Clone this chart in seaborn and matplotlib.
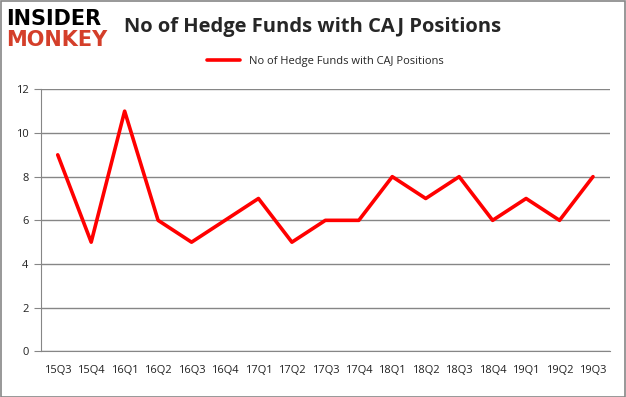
import matplotlib
matplotlib.use("Agg")
import matplotlib.pyplot as plt
import seaborn as sns
import pandas as pd
import numpy as np

quarters = ["15Q3", "15Q4", "16Q1", "16Q2", "16Q3", "16Q4", "17Q1", "17Q2", "17Q3",
            "17Q4", "18Q1", "18Q2", "18Q3", "18Q4", "19Q1", "19Q2", "19Q3"]
num_funds = [9, 5, 11, 6, 5, 6, 7, 5, 6, 6, 8, 7, 8, 6, 7, 6, 8]
series_name = "No of Hedge Funds with CAJ Positions"

df = pd.DataFrame({"quarter": quarters, "funds": num_funds})
df["pos"] = np.arange(len(df))

sns.set_style("white")
plt.rcParams["font.family"] = ["Open Sans", "DejaVu Sans"]

fig = plt.figure(figsize=(6.26, 3.97), dpi=100)
ax = fig.add_axes([0.0655, 0.115, 0.9085, 0.66])

sns.lineplot(data=df, x="pos", y="funds", color="#ff0000", linewidth=2.6,
             ax=ax, label=series_name)

ax.set_xlim(-0.5, len(quarters) - 0.5)
ax.set_ylim(0, 12)
ax.set_yticks(range(0, 13, 2))
ax.set_xticks(df["pos"])
ax.set_xticklabels(quarters)
ax.set_xticks(np.arange(-0.5, len(quarters)), minor=True)
ax.tick_params(axis="x", which="major", length=0, pad=10, labelsize=8, labelcolor="#222222")
ax.tick_params(axis="x", which="minor", length=5, color="#868686", width=1)
ax.tick_params(axis="y", length=5, color="#868686", labelsize=8, pad=4, left=True,
               labelcolor="#222222")
ax.set_xlabel("")
ax.set_ylabel("")
ax.grid(axis="y", color="#868686", linewidth=1)
ax.set_axisbelow(True)
for s in ["top", "right"]:
    ax.spines[s].set_visible(False)
ax.spines["left"].set_color("#868686")
ax.spines["bottom"].set_color("#868686")

ax.legend(loc="center", bbox_to_anchor=(0.5, 1.105), frameon=False,
          fontsize=8, handlelength=3.0)

fig.text(0.5, 0.932, series_name, ha="center", va="center",
         fontsize=14.5, fontweight="bold")

# logo
fig.text(0.01, 0.953, "INSIDER", ha="left", va="center", fontsize=15,
         fontweight="heavy", color="black", family="DejaVu Sans")
fig.text(0.01, 0.898, "MONKEY", ha="left", va="center", fontsize=15,
         fontweight="heavy", color="#d43f2a", family="DejaVu Sans")

fig.patches.append(plt.Rectangle((0.001, 0.001), 0.997, 0.997, transform=fig.transFigure,
                                 fill=False, edgecolor="#868686", linewidth=1.2))

fig.savefig("out.png", dpi=100)
